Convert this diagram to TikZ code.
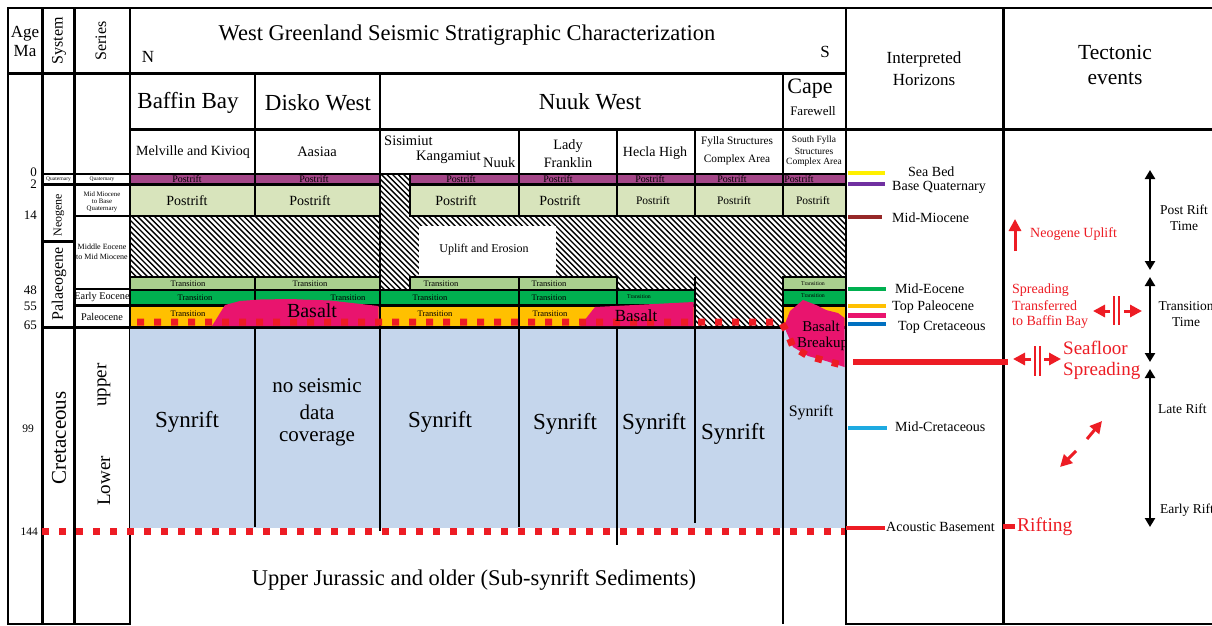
\documentclass[tikz,border=0pt]{standalone}
\usepackage{fontspec}
\setmainfont{Liberation Serif}
\usetikzlibrary{arrows.meta}
\definecolor{rowpurple}{RGB}{164,70,136}
\definecolor{postgreen}{RGB}{216,228,188}
\definecolor{translight}{RGB}{169,208,142}
\definecolor{transdark}{RGB}{0,176,80}
\definecolor{transorange}{RGB}{255,192,0}
\definecolor{basaltpink}{RGB}{233,20,110}
\definecolor{rifred}{RGB}{237,28,36}
\definecolor{synblue}{RGB}{197,214,236}
\definecolor{hyellow}{RGB}{255,240,0}
\definecolor{hpurple}{RGB}{112,48,160}
\definecolor{hbrown}{RGB}{150,40,40}
\definecolor{hblue}{RGB}{0,112,192}
\definecolor{hcyan}{RGB}{30,170,225}
\newcommand\fsz[1]{\fontsize{#1}{#1}\selectfont}
\begin{document}
\begin{tikzpicture}[x=1pt,y=-1pt,
  cellb/.style={draw=black,line width=2.6pt},
  vline/.style={draw=black,line width=2.6pt},
  tx/.style={inner sep=0pt,text=black},
  rtx/.style={inner sep=0pt,text=rifred},
  reddots/.style={draw=rifred,line width=7pt,dash pattern=on 7pt off 10pt},
  hbar/.style={line width=4.5pt},
  redarrow/.style={draw=rifred,line width=3pt,-{Triangle[length=12pt,width=12pt]}},
  blackdbl/.style={draw=black,line width=2.5pt,{Triangle[length=9pt,width=10pt]}-{Triangle[length=9pt,width=10pt]}},
  dblbar/.style={draw=rifred,line width=1.8pt}
]
\useasboundingbox (0,0) rectangle (1212,626);
\fill[white] (0,0) rectangle (1212,626);

% ---------- hatch ----------
\begin{scope}
\clip (130,216) rectangle (380,277) (380,174) rectangle (410,290) (410,216) rectangle (846,277) (617,276) rectangle (695,290) (695,276) rectangle (783,327.5);
\foreach \i in {0,...,220} \draw[line width=1.4pt] ({\i*5.6-200},170) -- ++(160,160);
\end{scope}
\fill[white] (419,226) rectangle (556,276);
\node[tx,font=\fsz{12}] (uplift) at (484,250) {Uplift and Erosion};

% ---------- header boxes ----------
\draw[cellb] (8,8) rectangle (42.5,73.5);
\draw[cellb] (42.5,8) rectangle (74.5,73.5);
\draw[cellb] (74.5,8) rectangle (130,73.5);
\draw[cellb] (130,8) rectangle (846,73.5);
\draw[cellb] (846,8) rectangle (1003.5,129.5);
\draw[cellb] (1003.5,8) rectangle (1216,129.5);
\foreach \a/\b in {130/255,255/380,380/783,783/846} \draw[cellb] (\a,73.5) rectangle (\b,129.5);
\foreach \a/\b in {130/255,255/380,380/519,519/617,617/695,695/783,783/846} \draw[cellb] (\a,129.5) rectangle (\b,174);

% ---------- left columns ----------
\draw[cellb] (8,73.5) rectangle (42.5,624);
\draw[cellb] (42.5,73.5) rectangle (74.5,174);
\draw[cellb] (42.5,174) rectangle (74.5,184.5);
\draw[cellb] (42.5,184.5) rectangle (74.5,241.5);
\draw[cellb] (42.5,241.5) rectangle (74.5,327.5);
\draw[cellb] (42.5,327.5) rectangle (74.5,624);
\draw[cellb] (74.5,73.5) rectangle (130,174);
\draw[cellb] (74.5,174) rectangle (130,184.5);
\draw[cellb] (74.5,184.5) rectangle (130,216);
\draw[cellb] (74.5,216) rectangle (130,289);
\draw[cellb] (74.5,289) rectangle (130,305.5);
\draw[cellb] (74.5,305.5) rectangle (130,327.5);
\draw[cellb] (74.5,327.5) rectangle (130,624);

% ---------- strata cells ----------
\foreach \a/\b in {130/255,255/380,410/519,519/617,617/695,695/783,783/846} {
  \filldraw[cellb,fill=rowpurple] (\a,174) rectangle (\b,184.5);
  \filldraw[cellb,fill=postgreen] (\a,184.5) rectangle (\b,216);
}
\foreach \a/\b in {130/255,255/380,410/519,519/617,783/846} \filldraw[cellb,fill=translight] (\a,277) rectangle (\b,290);
\foreach \a/\b in {130/255,255/380,380/519,519/617,617/695,783/846} \filldraw[cellb,fill=transdark] (\a,290) rectangle (\b,305.5);
\foreach \a/\b in {130/255,255/380,380/519,519/617,617/695,783/846} \filldraw[cellb,fill=transorange] (\a,305.5) rectangle (\b,327.5);
\draw[vline] (695,277) -- (695,327.5);

% ---------- synrift ----------
\fill[synblue] (130,329) rectangle (846,527.5);
\draw[vline] (130,327.5) -- (846,327.5);
\foreach \xx/\yy in {255/527,519/527,617/545,695/523,783/624} \draw[vline] (\xx,327.5) -- (\xx,\yy);
\draw[vline] (380,73.5) -- (380,531);

% ---------- basalt ----------
\fill[basaltpink] (212,326) -- (225,305) -- (240,301) -- (260,299.5) -- (290,299) -- (330,300.5) -- (378.5,306) -- (378.5,326) -- cycle;
\fill[basaltpink] (580,326) -- (595,307) -- (693.5,302) -- (693.5,326) -- cycle;
\fill[basaltpink] (784.5,325) -- (790,311) -- (803,300) -- (816,305) -- (826,310) -- (838,313) -- (844.5,318) -- (844.5,367) -- (826,361) -- (808,356) -- (793,347) -- (786,331) -- cycle;

% ---------- red dotted lines ----------
\draw[reddots] (137,322) -- (781,322) -- (787,332) -- (793,347) -- (808,356) -- (826,361) -- (846,366);
\draw[reddots] (42,531) -- (846,531);

% ---------- right columns ----------
\draw[cellb] (846,129.5) rectangle (1003.5,624);
\draw[cellb] (1003.5,129.5) rectangle (1216,624);

% ---------- header texts ----------
\node[tx,font=\fsz{17}] (agehd) at (25,34) {Age};
\node[tx,font=\fsz{17}] (mahd) at (25,51) {Ma};
\node[tx,font=\fsz{16},rotate=90] (syshd) at (59,41) {System};
\node[tx,font=\fsz{16},rotate=90] (serhd) at (101,41) {Series};
\node[tx,font=\fsz{22.5}] (title) at (467,35) {West Greenland Seismic Stratigraphic Characterization};
\node[tx,font=\fsz{17}] (north) at (148,57) {N};
\node[tx,font=\fsz{17}] (south) at (825,52) {S};
\node[tx,font=\fsz{23}] (baffin) at (188,103) {Baffin Bay};
\node[tx,font=\fsz{23}] (disko) at (318,103) {Disko West};
\node[tx,font=\fsz{23}] (nuuk) at (590,102) {Nuuk West};
\node[tx,font=\fsz{22}] (cape) at (810,89) {Cape};
\node[tx,font=\fsz{13}] (farewell) at (813,111) {Farewell};
\node[tx,font=\fsz{14}] (melville) at (193,152) {Melville and Kivioq};
\node[tx,font=\fsz{14.5}] (aasiaa) at (317,152) {Aasiaa};
\node[tx,font=\fsz{14.5},anchor=west] (sisimiut) at (384,141) {Sisimiut};
\node[tx,font=\fsz{14.5},anchor=west] (kangamiut) at (416,157) {Kangamiut};
\node[tx,font=\fsz{14.5},anchor=west] (nuukloc) at (483,163) {Nuuk};
\node[tx,font=\fsz{14.3}] (lady) at (568,146) {Lady};
\node[tx,font=\fsz{14.3}] (franklin) at (568,163) {Franklin};
\node[tx,font=\fsz{14}] (hecla) at (655,153) {Hecla High};
\node[tx,font=\fsz{11.3}] (fylla1) at (737,142) {Fylla Structures};
\node[tx,font=\fsz{11.3}] (fylla2) at (737,160) {Complex Area};
\node[tx,font=\fsz{9.5}] (sfylla1) at (814,140) {South Fylla};
\node[tx,font=\fsz{9.5}] (sfylla2) at (814,151) {Structures};
\node[tx,font=\fsz{9.5}] (sfylla3) at (814,162) {Complex Area};
\node[tx,font=\fsz{17}] (interp1) at (924,59) {Interpreted};
\node[tx,font=\fsz{17}] (interp2) at (924,80) {Horizons};
\node[tx,font=\fsz{21.5}] (tect1) at (1115,52) {Tectonic};
\node[tx,font=\fsz{21.5}] (tect2) at (1115,79) {events};

% ---------- ages ----------
\foreach \v/\yy/\nm in {0/172/a0,2/184/a2,14/215/a14,48/290/a48,55/306/a55,65/325/a65}
  \node[tx,font=\fsz{13},anchor=east] (\nm) at (37,\yy) {\v};
\node[tx,font=\fsz{11.5},anchor=east] (a99) at (34,429) {99};
\node[tx,font=\fsz{11.5},anchor=east] (a144) at (38,532) {144};

% ---------- system / series texts ----------
\node[tx,font=\fsz{5.5}] (sysq) at (58.5,179.3) {Quaternary};
\node[tx,font=\fsz{12},rotate=90] (neog) at (59,215) {Neogene};
\node[tx,font=\fsz{16},rotate=90] (palaeo) at (59,284) {Palaeogene};
\node[tx,font=\fsz{21},rotate=90] (cret) at (59,438) {Cretaceous};
\node[tx,font=\fsz{5.5}] (serq) at (102,179.3) {Quaternary};
\node[tx,font=\fsz{6.8}] (mm1) at (102,194) {Mid Miocene};
\node[tx,font=\fsz{6.8}] (mm2) at (102,201.5) {to Base};
\node[tx,font=\fsz{6.8}] (mm3) at (102,209) {Quaternary};
\node[tx,font=\fsz{8}] (me1) at (102,247) {Middle Eocene};
\node[tx,font=\fsz{8}] (me2) at (102,257) {to Mid Miocene};
\node[tx,font=\fsz{10.3}] (eeoc) at (102,297.5) {Early Eocene};
\node[tx,font=\fsz{10.3}] (paleo) at (102,316.5) {Paleocene};
\node[tx,font=\fsz{19},rotate=90] (upper) at (104,385) {upper};
\node[tx,font=\fsz{19},rotate=90] (lower) at (104,481) {Lower};

% ---------- strata texts ----------
\foreach \xx/\nm in {187/pa,314/pb,461/pc,558/pd,650/pe,732/pf,799/pg}
  \node[tx,font=\fsz{10}] (\nm) at (\xx,179.3) {Postrift};
\foreach \xx/\nm in {187/ga,310/gb,456/gc,560/gd}
  \node[tx,font=\fsz{14}] (\nm) at (\xx,201) {Postrift};
\foreach \xx/\nm in {653/ge,734/gf,813/gg}
  \node[tx,font=\fsz{11.5}] (\nm) at (\xx,201) {Postrift};
\foreach \xx/\nm in {188/la,310/lb,441/lc,549/ld}
  \node[tx,font=\fsz{8.5}] (\nm) at (\xx,283.5) {Transition};
\node[tx,font=\fsz{5.8}] (le) at (813,283.5) {Transition};
\foreach \xx/\nm in {195/da,348/db,430/dc,549/dd}
  \node[tx,font=\fsz{8.5}] (\nm) at (\xx,298) {Transition};
\node[tx,font=\fsz{5.8}] (de) at (639,297) {Transition};
\node[tx,font=\fsz{5.8}] (df) at (813,296) {Transition};
\foreach \xx/\nm in {188/oa,435/oc,550/od}
  \node[tx,font=\fsz{8.5}] (\nm) at (\xx,313.5) {Transition};
\node[tx,font=\fsz{20}] (basalt1) at (312,311) {Basalt};
\node[tx,font=\fsz{17}] (basalt2) at (636,316) {Basalt};
\begin{scope}
\clip (784,295) rectangle (844.5,380);
\node[tx,font=\fsz{15}] (basalt3) at (821,326.5) {Basalt};
\node[tx,font=\fsz{15},anchor=west] (breakup) at (797,344) {Breakup};
\end{scope}

\node[tx,font=\fsz{23}] (syn1) at (187,422) {Synrift};
\node[tx,font=\fsz{21}] (nsd1) at (317,386) {no seismic};
\node[tx,font=\fsz{21}] (nsd2) at (317,412) {data};
\node[tx,font=\fsz{21}] (nsd3) at (317,438) {coverage};
\node[tx,font=\fsz{23}] (syn2) at (440,422) {Synrift};
\node[tx,font=\fsz{23}] (syn3) at (565,424) {Synrift};
\node[tx,font=\fsz{23}] (syn4) at (654,424) {Synrift};
\node[tx,font=\fsz{23}] (syn5) at (733,434) {Synrift};
\node[tx,font=\fsz{16}] (syn6) at (811,413) {Synrift};
\node[tx,font=\fsz{22.5}] (jur) at (474,580) {Upper Jurassic and older (Sub-synrift Sediments)};

% ---------- interpreted horizons ----------
\draw[hbar,hyellow] (848,173) -- (885,173);
\draw[hbar,hpurple] (848,184) -- (885,184);
\draw[hbar,hbrown] (848,217) -- (882,217);
\draw[hbar,transdark] (848,289) -- (886,289);
\draw[hbar,transorange] (848,306) -- (886,306);
\draw[hbar,basaltpink] (848,315.5) -- (886,315.5);
\draw[hbar,hblue] (848,324) -- (886,324);
\draw[hbar,hcyan] (848,428) -- (887,428);
\draw[hbar,rifred] (846,528) -- (885,528);
\node[tx,font=\fsz{14},anchor=west] (hsea) at (908,172) {Sea Bed};
\node[tx,font=\fsz{14},anchor=west] (hbq) at (892,187) {Base Quaternary};
\node[tx,font=\fsz{14},anchor=west] (hmm) at (892,218) {Mid-Miocene};
\node[tx,font=\fsz{14},anchor=west] (hme) at (895,289) {Mid-Eocene};
\node[tx,font=\fsz{14},anchor=west] (htp) at (892,307) {Top Paleocene};
\node[tx,font=\fsz{14},anchor=west] (htc) at (898,327) {Top Cretaceous};
\node[tx,font=\fsz{14},anchor=west] (hmc) at (895,427) {Mid-Cretaceous};
\node[tx,font=\fsz{14},anchor=west] (hab) at (886,527) {Acoustic Basement};

% ---------- tectonic events ----------
\coordinate (pr1) at (1150,170); \coordinate (pr2) at (1150,270);
\coordinate (tr1) at (1150,277); \coordinate (tr2) at (1150,362);
\coordinate (rf1) at (1150,369); \coordinate (rf2) at (1150,527);
\draw[blackdbl] (pr1) -- (pr2);
\draw[blackdbl] (tr1) -- (tr2);
\draw[blackdbl] (rf1) -- (rf2);
\node[tx,font=\fsz{13.5}] (postrift1) at (1184,210) {Post Rift};
\node[tx,font=\fsz{13.5}] (postrift2) at (1184,226) {Time};
\node[tx,font=\fsz{13.5}] (trans1) at (1186,306) {Transition};
\node[tx,font=\fsz{13.5}] (trans2) at (1186,322) {Time};
\node[tx,font=\fsz{13.5},anchor=west] (laterift) at (1158,409) {Late Rift};
\node[tx,font=\fsz{13.5},anchor=west] (earlyrift) at (1160,510) {Early Rift};

\coordinate (nu1) at (1015,251); \coordinate (nu2) at (1015,219);
\draw[redarrow] (nu1) -- (nu2);
\node[rtx,font=\fsz{14},anchor=west] (neoup) at (1030,234) {Neogene Uplift};

\node[rtx,font=\fsz{14},anchor=west] (st1) at (1012,290) {Spreading};
\node[rtx,font=\fsz{14},anchor=west] (st2) at (1012,306) {Transferred};
\node[rtx,font=\fsz{14},anchor=west] (st3) at (1012,322) {to Baffin Bay};
\coordinate (sa1) at (1110,311); \coordinate (sa2) at (1093,311);
\coordinate (sa3) at (1124,311); \coordinate (sa4) at (1142,311);
\draw[redarrow] (sa1) -- (sa2);
\draw[redarrow] (sa3) -- (sa4);
\draw[dblbar] (1114,296) -- (1114,325);
\draw[dblbar] (1119,296) -- (1119,325);

\draw[rifred,line width=5.5pt] (853,362) -- (1008,362);
\coordinate (sf1) at (1031,359); \coordinate (sf2) at (1013,359);
\coordinate (sf3) at (1044,359); \coordinate (sf4) at (1061,359);
\draw[redarrow] (sf1) -- (sf2);
\draw[redarrow] (sf3) -- (sf4);
\draw[dblbar] (1035,346) -- (1035,376);
\draw[dblbar] (1040,346) -- (1040,376);
\node[rtx,font=\fsz{19},anchor=west] (seafl1) at (1063,348) {Seafloor};
\node[rtx,font=\fsz{19},anchor=west] (seafl2) at (1063,371) {Spreading};

\coordinate (dg0) at (1087,439); \coordinate (dg1) at (1102,421);
\coordinate (dg2) at (1076,451); \coordinate (dg3) at (1060,467);
\draw[redarrow] (dg0) -- (dg1);
\draw[redarrow] (dg2) -- (dg3);

\draw[rifred,line width=5pt] (1003,526) -- (1015,526);
\node[rtx,font=\fsz{19.5},anchor=west] (rifting) at (1017,527) {Rifting};
\end{tikzpicture}
\end{document}
